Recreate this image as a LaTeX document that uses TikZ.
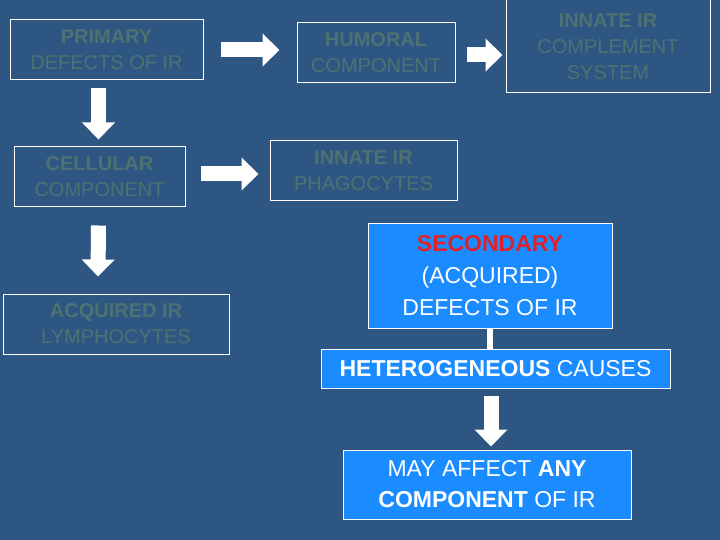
\documentclass[tikz,border=0pt]{standalone}
\usepackage{fontspec}
\setmainfont{Liberation Sans}
\usetikzlibrary{arrows.meta}
\definecolor{bg}{HTML}{2D5682}
\definecolor{dim}{HTML}{4E7272}
\definecolor{bright}{HTML}{1A8CFF}
\definecolor{redt}{HTML}{E0202A}
\tikzset{
 dimbox/.style={draw=white, line width=1pt, text=dim, align=center, font=\fontsize{20}{26}\selectfont, inner sep=0pt},
 brightbox/.style={draw=white, line width=1pt, fill=bright, text=white, align=center, font=\fontsize{23}{32}\selectfont, inner sep=0pt},
 fat/.style={draw=white, line width=15pt, -{Triangle[width=32pt,length=17pt]}},
}
\begin{document}
\begin{tikzpicture}[x=1pt,y=-1pt]
\fill[bg] (0,0) rectangle (720,540);
\useasboundingbox (0,0) rectangle (720,540);
\node[dimbox, minimum width=193pt, minimum height=60pt] (prim) at (106.5,50) {\textbf{PRIMARY}\\DEFECTS OF IR};
\node[dimbox, minimum width=158pt, minimum height=60pt] (hum) at (376,53) {\textbf{HUMORAL}\\COMPONENT};
\node[dimbox, minimum width=204pt, minimum height=93pt] (comp) at (608,46.5) {\textbf{INNATE IR}\\COMPLEMENT\\SYSTEM};
\node[dimbox, minimum width=171pt, minimum height=60pt] (cell) at (99.5,177) {\textbf{CELLULAR}\\COMPONENT};
\node[dimbox, minimum width=187pt, minimum height=60pt] (phag) at (363.5,171) {\textbf{INNATE IR}\\PHAGOCYTES};
\node[dimbox, minimum width=226pt, minimum height=60pt] (acq) at (116,324) {\textbf{ACQUIRED IR}\\LYMPHOCYTES};
\node[brightbox, minimum width=244pt, minimum height=104pt] (sec) at (490,276) {\textcolor{redt}{\textbf{SECONDARY}}\\(ACQUIRED)\\DEFECTS OF IR};
\node[brightbox, minimum width=349pt, minimum height=39pt] (het) at (495.5,368.5) {\textbf{HETEROGENEOUS} CAUSES};
\node[brightbox, minimum width=288pt, minimum height=69pt, font=\fontsize{23}{31}\selectfont] (may) at (487,484.5) {MAY AFFECT \textbf{ANY}\\\textbf{COMPONENT} OF IR};
\draw[fat] ([xshift=17pt]prim.east) -- ([xshift=-17pt,yshift=3pt]hum.west);
\draw[fat] ([xshift=11pt,yshift=-2pt]hum.east) -- ([xshift=-3pt,yshift=-8.5pt]comp.west);
\draw[fat] ([xshift=15pt,yshift=3pt]cell.east) -- ([xshift=-11pt,yshift=-3pt]phag.west);
\draw[fat] ([xshift=-8pt,yshift=-8pt]prim.south) -- ([xshift=-1pt,yshift=7pt]cell.north);
\draw[fat] ([xshift=-1pt,yshift=-18pt]cell.south) -- ([xshift=-18pt,yshift=17pt]acq.north);
\draw[fat] ([xshift=-4.5pt,yshift=-7pt]het.south) -- ([xshift=4pt,yshift=3pt]may.north);
\draw[white, line width=6pt] (sec.south) -- (sec.south |- het.north);
\end{tikzpicture}
\end{document}
